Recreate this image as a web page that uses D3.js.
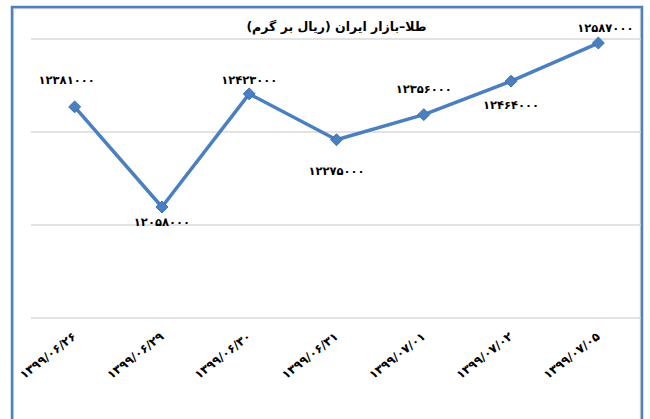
<!DOCTYPE html>
<html>
<head>
<meta charset="utf-8">
<script src="https://cdn.jsdelivr.net/npm/d3@7"></script>
<style>
  body { margin: 0; background: #fff; }
  text { font-family: "DejaVu Sans", sans-serif; font-weight: bold; fill: #000; }
</style>
</head>
<body>
<div id="chart"></div>
<script>
// dates (categories) and gold price in rial per gram
var dates  = ["۱۳۹۹/۰۶/۲۶", "۱۳۹۹/۰۶/۲۹", "۱۳۹۹/۰۶/۳۰", "۱۳۹۹/۰۶/۳۱", "۱۳۹۹/۰۷/۰۱", "۱۳۹۹/۰۷/۰۲", "۱۳۹۹/۰۷/۰۵"];
var prices = [12381000, 12058000, 12423000, 12275000, 12356000, 12464000, 12587000];
var yTicks = [11700000, 12000000, 12300000, 12600000];
var title  = "طلا–بازار ایران (ریال بر گرم)";

// where each value label sits relative to its point (pixels)
var labelDx = [-8, 0, 0, 0, 0, 0, 7];
var labelDy = [-23, 19, -10, 35, -22, 28, -11];

function toFa(n) {
    return String(n).replace(/[0-9]/g, function(d) { return "۰۱۲۳۴۵۶۷۸۹"[+d]; });
}

var W = 650, H = 419;
var margin = {top: 39, right: 8, bottom: 101, left: 31};

var svg = d3.select("#chart").append("svg")
    .attr("width", W)
    .attr("height", H);

// frame
svg.append("rect")
    .attr("x", 13.5).attr("y", 8.5)
    .attr("width", 627).attr("height", 420)
    .attr("fill", "none")
    .attr("stroke", "#dcdcdc")
    .attr("stroke-width", 1.5);
svg.append("rect")
    .attr("x", 12).attr("y", 7)
    .attr("width", 630).attr("height", 425)
    .attr("fill", "none")
    .attr("stroke", "#4f81bd")
    .attr("stroke-width", 2.5);

var x = d3.scalePoint()
    .domain(dates)
    .range([margin.left, W - margin.right])
    .padding(0.5);

var y = d3.scaleLinear()
    .domain([d3.min(yTicks), d3.max(yTicks)])
    .range([H - margin.bottom, margin.top]);

// gridlines
svg.append("g")
    .selectAll("line")
    .data(yTicks)
    .enter().append("line")
    .attr("x1", margin.left)
    .attr("x2", 641)
    .attr("y1", function(d) { return y(d); })
    .attr("y2", function(d) { return y(d); })
    .attr("stroke", "#d9d9d9")
    .attr("stroke-width", 1.5);

// x axis labels
var xAxis = svg.append("g")
    .attr("transform", "translate(0," + y(d3.min(yTicks)) + ")")
    .call(d3.axisBottom(x).tickSize(0).tickPadding(0));
xAxis.select(".domain").remove();
xAxis.selectAll("text")
    .attr("font-size", 12)
    .attr("font-family", "DejaVu Sans")
    .attr("font-weight", "bold")
    .attr("letter-spacing", -0.3)
    .attr("y", 0)
    .attr("x", 0)
    .attr("dy", 0)
    .attr("transform", "translate(2,20) rotate(-38)")
    .style("text-anchor", "end");

// title
svg.append("text")
    .attr("x", (margin.left + W - margin.right) / 2)
    .attr("y", 31)
    .attr("text-anchor", "middle")
    .attr("font-size", 12.5)
    .text(title);

// line
var line = d3.line()
    .x(function(d, i) { return x(dates[i]); })
    .y(function(d) { return y(d); });

svg.append("path")
    .datum(prices)
    .attr("d", line)
    .attr("fill", "none")
    .attr("stroke", "#4a7fc0")
    .attr("stroke-width", 3.5)
    .attr("stroke-linejoin", "round");

// diamond markers
svg.selectAll(".marker")
    .data(prices)
    .enter().append("path")
    .attr("class", "marker")
    .attr("d", d3.symbol().type(d3.symbolDiamond2).size(90))
    .attr("transform", function(d, i) { return "translate(" + x(dates[i]) + "," + y(d) + ")"; })
    .attr("fill", "#4a7fc0")
    .attr("stroke", "#3c6fae")
    .attr("stroke-width", 1);

// value labels
svg.selectAll(".vlabel")
    .data(prices)
    .enter().append("text")
    .attr("class", "vlabel")
    .attr("x", function(d, i) { return x(dates[i]) + labelDx[i]; })
    .attr("y", function(d, i) { return y(d) + labelDy[i]; })
    .attr("text-anchor", "middle")
    .attr("font-size", 11.5)
    .attr("letter-spacing", -1)
    .text(function(d) { return toFa(d); });
</script>
</body>
</html>
